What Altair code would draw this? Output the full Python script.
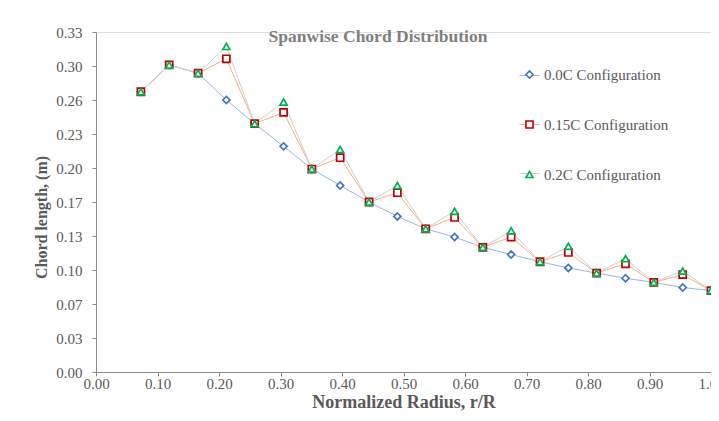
import altair as alt
import pandas as pd

# ---- data ----
radius = [0.073, 0.119, 0.166, 0.212, 0.258, 0.305, 0.351, 0.397, 0.444, 0.490,
          0.536, 0.583, 0.629, 0.675, 0.722, 0.768, 0.814, 0.861, 0.907, 0.954, 1.000]
chord_00 = [0.272, 0.298, 0.290, 0.264, 0.241, 0.219, 0.197, 0.181, 0.165, 0.151,
            0.139, 0.131, 0.121, 0.114, 0.107, 0.101, 0.096, 0.091, 0.087, 0.082, 0.079]
chord_15 = [0.272, 0.298, 0.290, 0.304, 0.241, 0.252, 0.197, 0.208, 0.165, 0.174,
            0.139, 0.150, 0.121, 0.131, 0.107, 0.116, 0.096, 0.105, 0.087, 0.0945, 0.079]
chord_20 = [0.272, 0.298, 0.290, 0.316, 0.241, 0.262, 0.197, 0.216, 0.165, 0.181,
            0.139, 0.156, 0.121, 0.137, 0.107, 0.122, 0.096, 0.110, 0.087, 0.098, 0.079]
series_names = ["0.0C Configuration", "0.15C Configuration", "0.2C Configuration"]
x_ticks = [0.0, 0.1, 0.2, 0.3, 0.4, 0.5, 0.6, 0.7, 0.8, 0.9, 1.0]
y_ticks = [0.0, 0.033, 0.066, 0.099, 0.132, 0.165, 0.198, 0.231, 0.264, 0.297, 0.33]

line_colors = ["#9DB5E3", "#F4B183", "#CFCFCF"]
marker_colors = ["#4472C4", "#C00000", "#00B050"]
marker_shapes = ["diamond", "square", "triangle-up"]

rows = []
for name, vals in zip(series_names, [chord_00, chord_15, chord_20]):
    for i, (r, c) in enumerate(zip(radius, vals)):
        rows.append({"series": name, "series_line": name, "r": r, "c": c, "idx": i})
df = pd.DataFrame(rows)

FONT = "Liberation Serif"
GREY = "#595959"
AXIS_GREY = "#8C8C8C"

x_enc = alt.X(
    "r:Q",
    scale=alt.Scale(domain=[0, 1], nice=False, zero=False),
    axis=alt.Axis(values=x_ticks, format=".2f", title="Normalized Radius, r/R",
                  grid=False, labelFont=FONT, labelFontSize=15, labelColor=GREY,
                  titleFont=FONT, titleFontSize=18, titleFontWeight="bold",
                  titleColor=GREY, domainColor=AXIS_GREY, tickColor=AXIS_GREY,
                  tickSize=4, labelPadding=0, titlePadding=2, labelFlush=False,
                  labelOverlap=False),
)
y_enc = alt.Y(
    "c:Q",
    scale=alt.Scale(domain=[0, 0.33], nice=False, zero=True),
    axis=alt.Axis(values=y_ticks, labelExpr="format(datum.value + 1e-9, '.2f')",
                  title="Chord length, (m)", grid=False, labelFont=FONT,
                  labelFontSize=15, labelColor=GREY, titleFont=FONT, titleFontSize=16,
                  titleFontWeight="bold", titleColor=GREY, domainColor=AXIS_GREY,
                  tickColor=AXIS_GREY, tickSize=4, labelPadding=10,
                  titleX=-55, titleY=185, titleAngle=-90, titleBaseline="middle",
                  titleAlign="center", labelOverlap=False),
)

lines = alt.Chart(df).mark_line(strokeWidth=1).encode(
    x=x_enc,
    y=y_enc,
    color=alt.Color("series_line:N",
                    scale=alt.Scale(domain=series_names, range=line_colors),
                    legend=alt.Legend(title=None, orient="none", legendX=423, legendY=33,
                                      symbolType="stroke", symbolSize=400,
                                      symbolStrokeWidth=1, rowPadding=30, padding=0,
                                      labelExpr="''", labelFontSize=15,
                                      labelOffset=0, zindex=0)),
    order="idx:Q",
)

pt_legend = alt.Legend(title=None, orient="none", legendX=426, legendY=35,
                       symbolSize=50, symbolFillColor="white",
                       symbolStrokeWidth=1.6, rowPadding=34, padding=0,
                       labelFont=FONT, labelFontSize=15, labelColor=GREY,
                       labelOffset=7, zindex=1)

points = alt.Chart(df).mark_point(filled=True, fill="white", opacity=1, strokeWidth=1.7,
                                  size=50).encode(
    x=x_enc,
    y=y_enc,
    stroke=alt.Stroke("series:N", scale=alt.Scale(domain=series_names, range=marker_colors),
                      legend=pt_legend),
    shape=alt.Shape("series:N", scale=alt.Scale(domain=series_names, range=marker_shapes),
                    legend=pt_legend),
)

chart = alt.layer(lines, points).resolve_legend(color="independent").properties(
    width=615,
    height=340,
    title=alt.TitleParams("Spanwise Chord Distribution", font=FONT, fontSize=17.5,
                          fontWeight="bold", color="#7F7F7F", anchor="middle",
                          dx=-25.5, offset=-20, frame="group"),
    autosize=alt.AutoSizeParams(type="none"),
    padding={"left": 88, "top": 24, "right": 0, "bottom": 41},
).configure_view(stroke=None).configure(background="white")

chart.save("out.html", embed_options={"renderer": "svg", "actions": False})
